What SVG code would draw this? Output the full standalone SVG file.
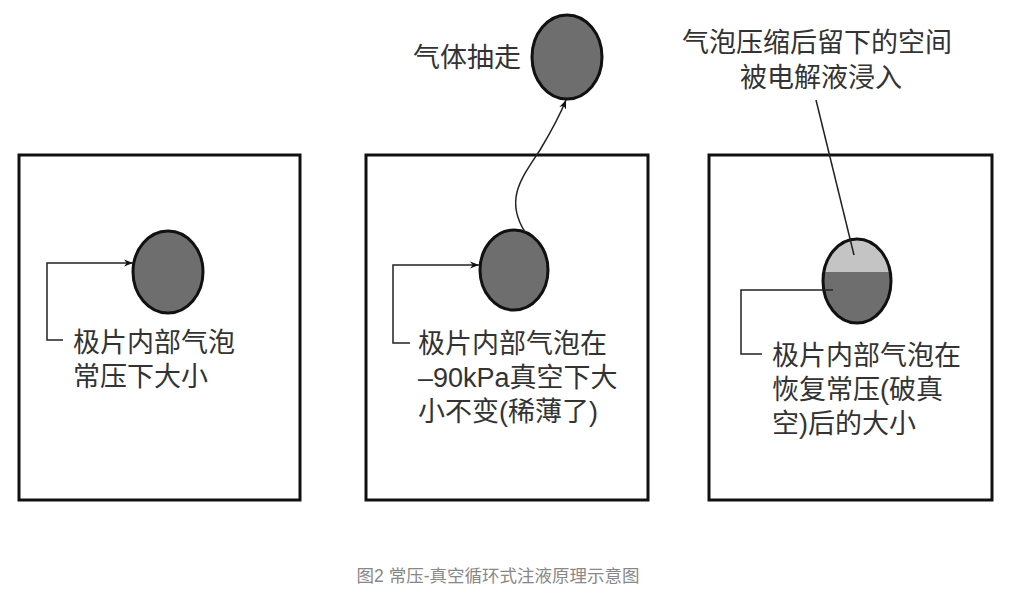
<svg xmlns="http://www.w3.org/2000/svg" width="1011" height="596" viewBox="0 0 1011 596">
<defs>
<style>
.box{fill:none;stroke:#111;stroke-width:3}
.bub{fill:#6e6e6e;stroke:#111;stroke-width:3}
.ln{fill:none;stroke:#222;stroke-width:1.5}
.t{font-family:"Liberation Sans","Noto Sans CJK SC",sans-serif;font-size:27px;fill:#333}
.cap{font-family:"Liberation Sans","Noto Sans CJK SC",sans-serif;font-size:17.5px;fill:#888}
</style>
<marker id="ar" viewBox="0 0 10 10" refX="10" refY="5" markerWidth="9" markerHeight="9" orient="auto" markerUnits="userSpaceOnUse"><path d="M0,1 L10,5 L0,9 L3,5 Z" fill="#111"/></marker>
<clipPath id="cb"><ellipse cx="857" cy="281" rx="34" ry="42"/></clipPath>
</defs>
<rect width="1011" height="596" fill="#fff"/>
<g id="box1"><rect class="box" x="19" y="155" width="281" height="345"/></g>
<g id="box2"><rect class="box" x="366" y="155" width="282" height="345"/></g>
<g id="box3"><rect class="box" x="709" y="155" width="283" height="345"/></g>
<g id="bubble1"><ellipse class="bub" cx="168" cy="272" rx="35" ry="41"/></g>
<g id="bubble2"><ellipse class="bub" cx="514" cy="270" rx="34" ry="40"/></g>
<g id="bubble-top"><ellipse class="bub" cx="567" cy="57" rx="35" ry="42"/></g>
<g id="bubble3">
<g clip-path="url(#cb)"><rect x="820" y="235" width="80" height="37" fill="#c4c4c4"/><rect x="820" y="272" width="80" height="60" fill="#6e6e6e"/></g>
<ellipse cx="857" cy="281" rx="34" ry="42" fill="none" stroke="#111" stroke-width="3"/></g>
<g id="connectors">
<polyline class="ln" points="63,340 47,340 47,263 133,263" marker-end="url(#ar)"/>
<polyline class="ln" points="410,343 393,343 393,265 479,265" marker-end="url(#ar)"/>
<path class="ln" d="M525,232 C505,200 520,180 540,150 C555,125 560,115 566,100" marker-end="url(#ar)"/>
<line class="ln" x1="854" y1="255" x2="816" y2="100"/>
<polyline class="ln" points="762,354 741,354 741,290 833,290"/>
</g>
<g id="labels">
<text class="t" x="73" y="352">极片内部气泡</text>
<text class="t" x="73" y="386">常压下大小</text>
<text class="t" x="418" y="353">极片内部气泡在</text>
<text class="t" x="418" y="387">–90kPa真空下大</text>
<text class="t" x="418" y="421">小不变(稀薄了)</text>
<text class="t" x="772" y="365">极片内部气泡在</text>
<text class="t" x="772" y="399">恢复常压(破真</text>
<text class="t" x="772" y="433">空)后的大小</text>
<text class="t" x="413" y="67">气体抽走</text>
<text class="t" x="682" y="52">气泡压缩后留下的空间</text>
<text class="t" x="740" y="87">被电解液浸入</text>
<text class="cap" x="498" y="582" text-anchor="middle">图2 常压-真空循环式注液原理示意图</text>
</g>
</svg>
